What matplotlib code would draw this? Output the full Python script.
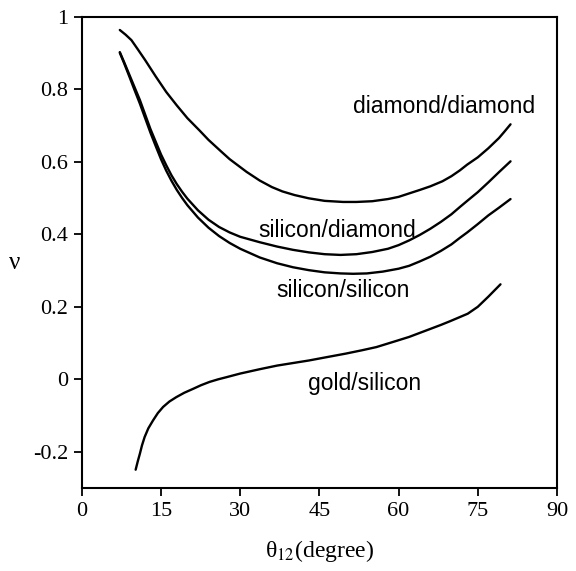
import numpy as np
import matplotlib
matplotlib.use('Agg')
import matplotlib.pyplot as plt

# curves (theta12 in degree, nu)
dd_x = [7.2, 8.3, 9.4, 10.5, 12, 14, 16, 18, 20, 22.3, 24, 26.4, 28, 31.2, 33.7, 36,
        38, 40.3, 43, 46, 49.5, 52, 55, 58, 60, 62.1, 64, 66, 68.3, 70, 71.6, 73,
        75, 77, 79, 80, 81.2]
dd_y = [0.963, 0.95, 0.935, 0.912, 0.88, 0.835, 0.792, 0.755, 0.72, 0.686, 0.66,
        0.628, 0.607, 0.572, 0.548, 0.53, 0.518, 0.508, 0.499, 0.492, 0.489, 0.489,
        0.491, 0.497, 0.503, 0.513, 0.522, 0.532, 0.546, 0.56, 0.576, 0.592, 0.612,
        0.637, 0.665, 0.682, 0.703]

sd_x = [7.2, 8, 9, 10, 11, 12, 13, 14, 15, 16, 17, 18, 19, 20, 22, 24, 26, 28, 30,
        33.7, 37, 40, 43, 46, 49, 52, 55, 58, 60, 62, 64, 66, 68, 70, 71.6, 73, 75,
        77, 79, 81.2]
sd_y = [0.902, 0.875, 0.84, 0.805, 0.77, 0.73, 0.69, 0.655, 0.62, 0.59, 0.562,
        0.538, 0.517, 0.498, 0.466, 0.44, 0.42, 0.405, 0.393, 0.378, 0.366, 0.357,
        0.35, 0.345, 0.343, 0.345, 0.351, 0.36, 0.37, 0.383, 0.398, 0.415, 0.434,
        0.455, 0.475, 0.492, 0.516, 0.543, 0.571, 0.601]

ss_x = [7.2, 8, 9, 10, 11, 12, 13, 14, 15, 16, 17, 18, 19, 20, 22, 24, 26, 28, 30,
        33.7, 37, 40, 43, 46, 49, 51.4, 54, 57, 60, 62, 64, 66, 68, 70, 71.6, 73,
        75, 77, 79, 81.2]
ss_y = [0.900, 0.872, 0.835, 0.797, 0.76, 0.72, 0.68, 0.643, 0.607, 0.575, 0.547,
        0.522, 0.5, 0.48, 0.446, 0.418, 0.395, 0.376, 0.36, 0.336, 0.32, 0.309,
        0.301, 0.295, 0.292, 0.291, 0.292, 0.297, 0.305, 0.313, 0.325, 0.338,
        0.354, 0.372, 0.39, 0.405, 0.428, 0.452, 0.473, 0.497]

gs_x = [10.2, 10.6, 11.0, 11.4, 11.9, 12.6, 13.5, 14.4, 15.4, 16.6, 17.9, 19.4,
        21.1, 22.6, 24.2, 25.8, 27.4, 30, 33.7, 37, 40, 43, 46.3, 50, 53, 55.8,
        59.8, 62, 64, 66, 68, 69.7, 71, 73.1, 75, 77, 79.3]
gs_y = [-0.249, -0.226, -0.205, -0.182, -0.159, -0.135, -0.113, -0.093, -0.076,
        -0.061, -0.049, -0.037, -0.026, -0.016, -0.007, -0.0, 0.006, 0.016, 0.028,
        0.038, 0.045, 0.052, 0.061, 0.071, 0.08, 0.089, 0.107, 0.117, 0.128, 0.139,
        0.15, 0.16, 0.168, 0.181, 0.2, 0.228, 0.262]

x_ticks = [0, 15, 30, 45, 60, 75, 90]
y_ticks = [-0.2, 0, 0.2, 0.4, 0.6, 0.8, 1]
y_tick_labels = ['-0.2', '0', '0.2', '0.4', '0.6', '0.8', '1']

labels = ['diamond/diamond', 'silicon/diamond', 'silicon/silicon', 'gold/silicon']
label_pos = [(68.7, 0.751), (48.3, 0.411), (49.5, 0.245), (53.5, -0.011)]

plt.rcParams['mathtext.fontset'] = 'stix'

fig = plt.figure(figsize=(5.76, 5.71), dpi=100)
ax = fig.add_axes([0.142, 0.145, 0.825, 0.826])

for xs, ys in [(dd_x, dd_y), (sd_x, sd_y), (ss_x, ss_y), (gs_x, gs_y)]:
    ax.plot(xs, ys, color='black', linewidth=1.7, solid_capstyle='round',
            solid_joinstyle='round')

for txt, (tx, ty) in zip(labels, label_pos):
    ax.text(tx, ty, txt, ha='center', va='center', fontsize=16.5,
            family='Liberation Sans', color='black')

ax.set_xlim(0, 90)
ax.set_ylim(-0.3, 1)
ax.set_xticks(x_ticks)
ax.set_yticks(y_ticks)
ax.set_yticklabels(y_tick_labels)
for lab in ax.get_xticklabels() + ax.get_yticklabels():
    lab.set_family('Liberation Serif')
    lab.set_fontsize(16)
ax.tick_params(direction='out', length=6, width=1.3, pad=4)

for sp in ax.spines.values():
    sp.set_linewidth(1.5)

ax.set_xlabel('θ$_{12}$(degree)', fontsize=17, family='Liberation Serif',
              labelpad=12)
ax.set_ylabel('ν', fontsize=18, family='Liberation Serif', rotation=0,
              va='center', ha='center')
ax.yaxis.set_label_coords(-0.141, 0.477)

fig.savefig('out.png', dpi=100)
